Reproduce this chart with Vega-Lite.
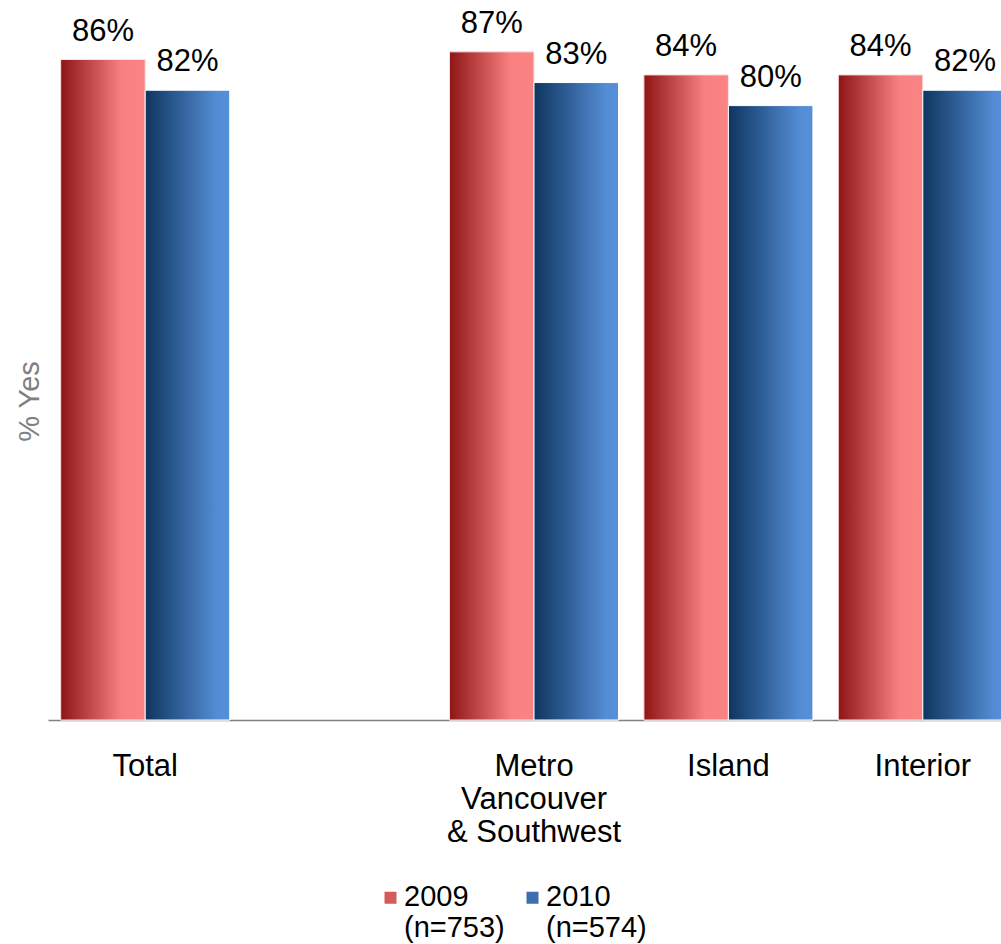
{
  "$schema": "https://vega.github.io/schema/vega-lite/v6.json",
  "autosize": {"type": "none"},
  "padding": {"left": 48, "top": 0, "right": 0, "bottom": 224},
  "width": 953,
  "height": 720,
  "background": "white",
  "config": {"view": {"stroke": null}, "font": "Liberation Sans"},
  "data": {"values": [
    {"region": "Total", "year": "2009", "value": 0.86},
    {"region": "Total", "year": "2010", "value": 0.82},
    {"region": "Metro Vancouver & Southwest", "year": "2009", "value": 0.87},
    {"region": "Metro Vancouver & Southwest", "year": "2010", "value": 0.83},
    {"region": "Island", "year": "2009", "value": 0.84},
    {"region": "Island", "year": "2010", "value": 0.80},
    {"region": "Interior", "year": "2009", "value": 0.84},
    {"region": "Interior", "year": "2010", "value": 0.82}
  ]},
  "encoding": {
    "x": {
      "field": "region", "type": "nominal", "title": null,
      "scale": {"domain": ["Total", "_", "Metro Vancouver & Southwest", "Island", "Interior"], "range": [0, 972], "paddingInner": 0, "paddingOuter": 0},
      "axis": {
        "domainColor": "#808080", "domainWidth": 1.5, "ticks": false, "grid": false,
        "labelFontSize": 31, "labelFont": "Liberation Sans", "labelColor": "#000000",
        "labelPadding": 31, "labelLineHeight": 33.3, "labelAngle": 0, "labelLimit": 400,
        "labelExpr": "datum.value == '_' ? '' : datum.value == 'Metro Vancouver & Southwest' ? ['Metro', 'Vancouver', '& Southwest'] : datum.value"
      }
    },
    "xOffset": {"field": "year", "type": "nominal", "scale": {"domain": ["2009", "2010"], "paddingInner": 0, "paddingOuter": 0.15}},
    "y": {
      "field": "value", "type": "quantitative", "title": "% Yes",
      "scale": {"domain": [0, 0.9375]},
      "axis": {
        "labels": false, "ticks": false, "domain": false, "grid": false,
        "titleColor": "#808080", "titleFontSize": 29, "titleFont": "Liberation Sans", "titleFontWeight": "normal",
        "titleX": -10, "titleY": 401, "titleAngle": -90, "titleBaseline": "alphabetic", "titleAlign": "center"
      }
    }
  },
  "layer": [
    {
      "mark": {"type": "bar", "stroke": "#ffffff", "strokeWidth": 1},
      "encoding": {
        "color": {
          "field": "year", "type": "nominal",
          "scale": {"domain": ["2009", "2010"], "range": ["#d45a5c", "#3d6fae"]},
          "legend": {
            "orient": "none", "legendX": 328, "legendY": 891, "direction": "horizontal", "title": null, "padding": 0,
            "symbolType": "M-1,-2.333L1,-2.333L1,-0.333L-1,-0.333Z", "symbolSize": 144, "symbolStrokeWidth": 0,
            "labelFontSize": 29, "labelFont": "Liberation Sans", "labelColor": "#000000", "labelLimit": 300,
            "labelBaseline": "alphabetic", "labelOffset": -1, "columnPadding": 13,
            "labelExpr": "datum.value == '2009' ? ['2009', '(n=753)'] : ['2010', '(n=574)']"
          }
        }
      }
    },
    {
      "transform": [{"filter": "datum.year == '2009'"}],
      "mark": {"type": "bar", "stroke": "#fbe3e3", "strokeWidth": 1,
        "color": {"gradient": "linear", "stops": [{"offset": 0, "color": "#8e1416"}, {"offset": 0.72, "color": "#f88080"}, {"offset": 1, "color": "#fa8383"}]}}
    },
    {
      "transform": [{"filter": "datum.year == '2010'"}],
      "mark": {"type": "bar", "stroke": "#ffffff", "strokeWidth": 1,
        "color": {"gradient": "linear", "stops": [{"offset": 0, "color": "#0e355f"}, {"offset": 0.85, "color": "#548dd5"}, {"offset": 1, "color": "#5690d8"}]}}
    },
    {
      "mark": {"type": "text", "fontSize": 31, "font": "Liberation Sans", "color": "#000000", "baseline": "alphabetic", "dy": -19},
      "encoding": {"text": {"field": "value", "type": "quantitative", "format": ".0%"}}
    }
  ]
}
